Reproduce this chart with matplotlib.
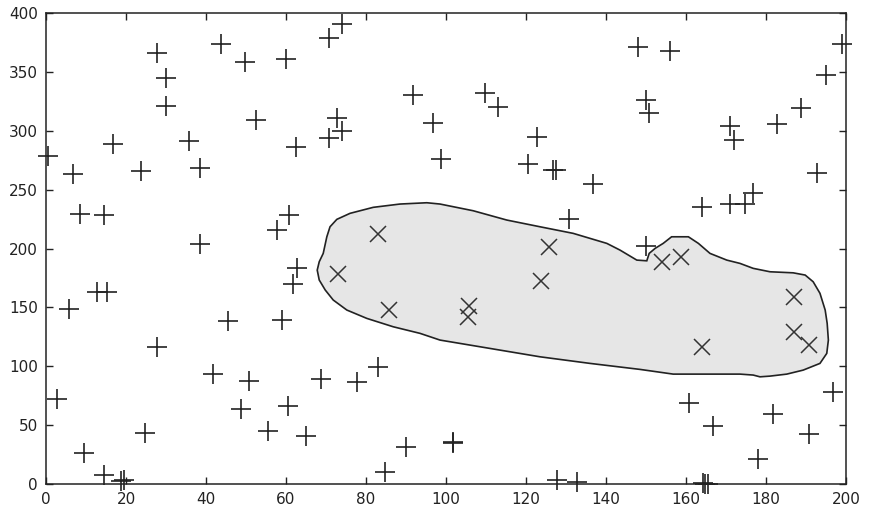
import numpy as np
import matplotlib
matplotlib.use('Agg')
import matplotlib.pyplot as plt
from matplotlib.patches import Polygon

# 바깥 점들 (+)
plus_x = [0.6, 2.7, 5.75, 6.8, 8.5, 9.6, 12.8, 15.3, 14.6, 14.5, 16.7, 18.75, 19.6,
          23.7, 24.75, 27.7, 27.7, 29.9, 29.9, 35.8, 38.5, 38.5, 41.7, 43.75, 45.6,
          48.7, 49.75, 50.8, 52.5, 55.6, 57.7, 58.9, 60.0, 60.8, 60.6, 61.7, 62.5,
          62.7, 64.9, 68.7, 70.75, 70.75, 73.9, 72.8, 73.9, 77.8, 82.9, 84.75, 90.0,
          91.7, 96.8, 98.7, 101.8, 101.8, 109.75, 113.0, 120.6, 122.7, 127.7, 126.8,
          127.5, 130.8, 132.8, 136.7, 147.9, 150.0, 150.75, 150.0, 156.0, 160.75,
          163.9, 164.2, 164.8, 165.4, 166.8, 171.0, 172.0, 171.0, 174.75, 176.8,
          177.9, 181.7, 182.8, 188.7, 190.8, 192.8, 195.0, 196.8, 198.9]
plus_y = [279, 72, 149, 263, 229, 26, 163.3, 163.3, 228.5, 7.6, 288.7, 2.8, 3.4,
          266, 43.6, 366, 116, 344.5, 321, 291, 268.6, 203.5, 93.4, 374, 138.4,
          63.4, 358.7, 87.5, 309, 45, 215.7, 139.5, 361, 228.5, 66.3, 169.5, 286.5,
          183.6, 41.2, 88.9, 379, 293.6, 391, 310.5, 300, 86.3, 99.6, 10.5, 31.7,
          330, 307, 275.8, 35.0, 35.6, 331.8, 320, 271.8, 295, 3.4, 266.7,
          267, 225, 2, 255, 370.8, 326, 314.8, 202, 368, 68.5,
          235.5, 1.1, 0.5, 0.5, 49.5, 237.8, 292, 304, 237.8, 247.4,
          21, 59.2, 305.7, 319, 42.2, 264.4, 347, 77.9, 374]

# 영역 안의 점들 (x)
cross_x = [72.9, 82.9, 85.8, 105.8, 105.6, 123.75, 125.8, 153.9, 158.75, 163.9, 187.0, 187.0, 190.75]
cross_y = [178.3, 212, 147.8, 151.2, 142, 172.7, 201, 188.8, 192.5, 116.6, 158.5, 128.8, 118]

# 영역 경계
region_x = [67.8, 68.3, 69.3, 70.2, 71.0, 72.7, 76.0, 81.8, 88.5, 95.2, 98.5, 106.8,
            115.2, 123.5, 131.8, 140.2, 143.5, 147.7, 150.2, 150.8, 152.3, 154.3,
            156.4, 160.6, 163.1, 166.0, 170.2, 173.5, 176.8, 181.0, 186.8, 189.8,
            191.8, 193.5, 194.8, 195.3, 195.6, 195.2, 193.5, 189.3, 185.2, 181.0,
            178.5, 176.8, 173.5, 156.8, 148.5, 136.0, 123.5, 111.0, 98.5, 93.5,
            86.8, 80.2, 75.2, 71.8, 69.8, 68.3]
region_y = [181.7, 188.8, 195.9, 210.0, 218.5, 224.8, 229.9, 235.0, 237.8, 238.9,
            237.8, 232.1, 224.2, 218.5, 212.9, 204.4, 198.7, 190.2, 189.6, 195.9,
            200.2, 204.4, 210.0, 210.0, 204.4, 195.9, 190.2, 187.4, 183.2, 180.3,
            179.4, 177.5, 171.8, 162.0, 147.8, 136.5, 122.3, 111.0, 102.5, 96.8,
            93.4, 91.7, 91.1, 92.6, 93.4, 93.4, 97.4, 102.5, 108.1, 115.2, 122.3,
            128.0, 133.6, 140.7, 147.8, 156.3, 164.8, 173.3]

fig = plt.figure(figsize=(8.69, 5.2), dpi=100)
ax = fig.add_axes([0.053, 0.069, 0.9205, 0.906])

poly = Polygon(np.column_stack([region_x, region_y]), closed=True,
               facecolor='#e6e6e6', edgecolor='#222222', linewidth=1.2, zorder=1)
ax.add_patch(poly)

ax.plot(plus_x, plus_y, linestyle='none', marker='+', markersize=14,
        markeredgewidth=1.2, color='#222222', zorder=3, clip_on=False)
ax.plot(cross_x, cross_y, linestyle='none', marker='x', markersize=12,
        markeredgewidth=1.1, color='#333333', zorder=3, clip_on=False)

ax.set_xlim(0, 200)
ax.set_ylim(0, 400)
ax.set_xticks(np.arange(0, 201, 20))
ax.set_yticks(np.arange(0, 401, 50))
ax.tick_params(direction='in', length=5, width=1, top=True, right=True,
               labelsize=11, colors='#222222', pad=6)
for s in ax.spines.values():
    s.set_linewidth(1.1)
    s.set_color('#222222')

fig.savefig('out.png', dpi=100)
